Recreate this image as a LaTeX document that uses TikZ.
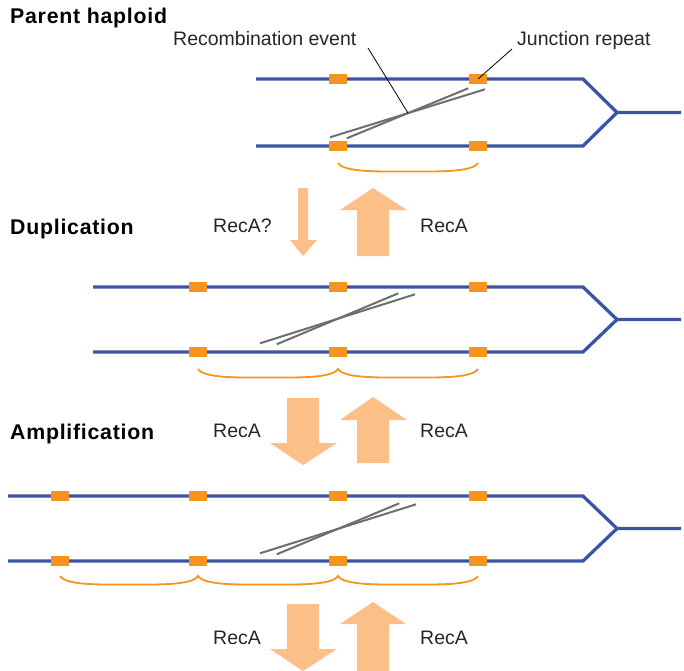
\documentclass[tikz,border=0pt]{standalone}
\usepackage{fontspec}
\setmainfont{Liberation Sans}
\newfontfamily\titlefont[LetterSpace=3.5]{Liberation Sans}
\definecolor{dnablue}{HTML}{3B54A3}
\definecolor{reporange}{HTML}{F7941D}
\definecolor{arroworange}{HTML}{FCBF88}
\definecolor{recgrey}{HTML}{6D6E71}
\tikzset{
  dna/.style={draw=dnablue, line width=3.3pt, line join=miter},
  rep/.style={fill=reporange, draw=none, minimum width=18.5pt, minimum height=10pt, inner sep=0pt},
  recline/.style={draw=recgrey, line width=2pt},
  leader/.style={draw=black, line width=0.8pt},
  brace/.style={draw=reporange, line width=1.8pt},
  bigarrow/.style={fill=arroworange, draw=none},
  title/.style={font=\titlefont\fontsize{21.3}{24}\selectfont\bfseries, anchor=base west, inner sep=0pt},
  lab/.style={font=\fontsize{19.5}{23}\selectfont, text=black!85, anchor=base west, inner sep=0pt},
}
\begin{document}
\begin{tikzpicture}[x=1pt,y=-1pt]
\useasboundingbox (0,0) rectangle (684,670);

% ---------- Section 1: parent haploid ----------
\node[title] (t1) at (10,23.3) {Parent haploid};
\coordinate (s1tl) at (256,79);
\coordinate (s1tr) at (583,79);
\coordinate (s1bl) at (256,146);
\coordinate (s1br) at (583,146);
\coordinate (s1j) at (617,112.5);
\coordinate (s1e) at (681,112.5);
\draw[dna] (s1tl) -- (s1tr) -- (s1j) -- (s1e);
\draw[dna] (s1bl) -- (s1br) -- (s1j);
\node[rep] (r1a) at (338,79) {};
\node[rep] (r1b) at (478,79) {};
\node[rep] (r1c) at (338,146) {};
\node[rep] (r1d) at (478,146) {};
\draw[recline] (330,137.3) -- (485,89.3);
\draw[recline] (346.7,138.3) -- (468.3,88.3);
\draw[brace] (338,163) .. controls (344,172.5) and (380,171.5) .. (408,171.5)
             .. controls (436,171.5) and (472,172.5) .. (478,163);
\node[lab] (lrec) at (173,45) {Recombination event};
\node[lab] (ljun) at (517,45) {Junction repeat};
\coordinate (recpt) at (408,113);
\draw[leader] (368,48) -- (recpt);
\draw[leader] (512,49) -- (r1b.center);

% ---------- arrows 1-2 ----------
\fill[bigarrow] (298,188) -- (308,188) -- (308,240) -- (317,240) -- (303,256) -- (290,240) -- (298,240) -- cycle;
\fill[bigarrow] (357,256) -- (389,256) -- (389,210) -- (407,210) -- (373,188) -- (340,210) -- (357,210) -- cycle;
\node[lab] (a1l) at (213,232) {RecA?};
\node[lab] (a1r) at (420,232) {RecA};

% ---------- Section 2: duplication ----------
\node[title] (t2) at (10,234) {Duplication};
\coordinate (s2tl) at (93,287);
\coordinate (s2tr) at (583,287);
\coordinate (s2bl) at (93,352);
\coordinate (s2br) at (583,352);
\coordinate (s2j) at (617,319.5);
\coordinate (s2e) at (681,319.5);
\draw[dna] (s2tl) -- (s2tr) -- (s2j) -- (s2e);
\draw[dna] (s2bl) -- (s2br) -- (s2j);
\foreach \x/\n in {198/a,338/b,478/c}{
  \node[rep] (r2t\n) at (\x,287) {};
  \node[rep] (r2b\n) at (\x,352) {};
}
\draw[recline] (260,343.3) -- (415,294.3);
\draw[recline] (276.7,344.3) -- (398.3,293.3);
\draw[brace] (198,369) .. controls (204,378.5) and (240,377.5) .. (268,377.5)
             .. controls (296,377.5) and (332,378.5) .. (338,369)
             .. controls (344,378.5) and (380,377.5) .. (408,377.5)
             .. controls (436,377.5) and (472,378.5) .. (478,369);

% ---------- arrows 2-3 ----------
\fill[bigarrow] (287,398) -- (319,398) -- (319,443) -- (337,443) -- (303,465) -- (270,443) -- (287,443) -- cycle;
\fill[bigarrow] (357,463) -- (389,463) -- (389,420) -- (407,420) -- (373,397) -- (340,420) -- (357,420) -- cycle;
\node[lab] (a2l) at (213,437) {RecA};
\node[lab] (a2r) at (420,437) {RecA};

% ---------- Section 3: amplification ----------
\node[title] (t3) at (10,439) {Amplification};
\coordinate (s3tl) at (8,496);
\coordinate (s3tr) at (583,496);
\coordinate (s3bl) at (8,561);
\coordinate (s3br) at (583,561);
\coordinate (s3j) at (617,528.5);
\coordinate (s3e) at (681,528.5);
\draw[dna] (s3tl) -- (s3tr) -- (s3j) -- (s3e);
\draw[dna] (s3bl) -- (s3br) -- (s3j);
\foreach \x/\n in {60/a,198/b,338/c,478/d}{
  \node[rep] (r3t\n) at (\x,496) {};
  \node[rep] (r3b\n) at (\x,561) {};
}
\draw[recline] (260,553.3) -- (416,504.3);
\draw[recline] (276.7,554.3) -- (399.3,503.3);
\draw[brace] (60,576) .. controls (66,585.5) and (101,584.5) .. (129,584.5)
             .. controls (157,584.5) and (192,585.5) .. (198,576)
             .. controls (204,585.5) and (240,584.5) .. (268,584.5)
             .. controls (296,584.5) and (332,585.5) .. (338,576)
             .. controls (344,585.5) and (380,584.5) .. (408,584.5)
             .. controls (436,584.5) and (472,585.5) .. (478,576);

% ---------- arrows 3-4 ----------
\fill[bigarrow] (287,604) -- (319,604) -- (319,649) -- (337,649) -- (303,671) -- (270,649) -- (287,649) -- cycle;
\fill[bigarrow] (357,672) -- (389,672) -- (389,624) -- (406,624) -- (373,602) -- (340,624) -- (357,624) -- cycle;
\node[lab] (a3l) at (213,644) {RecA};
\node[lab] (a3r) at (420,644) {RecA};
\end{tikzpicture}
\end{document}
